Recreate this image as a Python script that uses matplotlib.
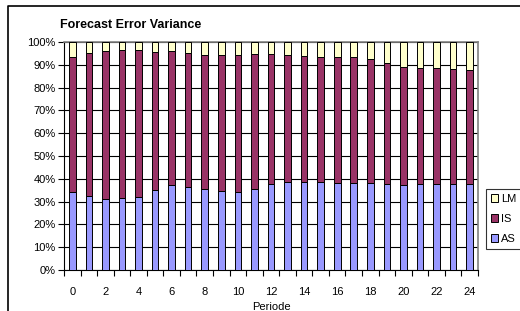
import numpy as np
import matplotlib
matplotlib.use('Agg')
import matplotlib.pyplot as plt
from matplotlib.lines import Line2D

plt.rcParams['font.family'] = ['Liberation Sans', 'DejaVu Sans']

periods = list(range(25))
as_share = [34.2, 32.6, 31.3, 31.7, 32.2, 35.2, 37.1, 36.3, 35.5, 34.5, 34.4, 35.5, 37.6,
            38.6, 38.7, 38.6, 38.3, 38.3, 38.0, 37.6, 37.1, 37.6, 37.6, 37.6, 37.6]
as_is_top = [93.6, 95.2, 96.1, 96.5, 96.5, 95.5, 95.9, 95.0, 94.3, 94.3, 94.3, 94.6, 94.6,
             94.3, 93.7, 93.6, 93.4, 93.3, 92.4, 90.8, 89.0, 88.5, 88.6, 88.2, 87.6]
is_share = [t - a for t, a in zip(as_is_top, as_share)]
lm_share = [100 - t for t in as_is_top]
y_ticks = list(range(0, 101, 10))
y_labels = [str(v) + '%' for v in y_ticks]
x_labels = [str(p) if p % 2 == 0 else '' for p in periods]

fig = plt.figure(figsize=(5.2, 3.11), dpi=100)
ax = fig.add_axes([0.1231, 0.1318, 0.796, 0.733])

x = np.array(periods)
wid = 0.4
ax.bar(x, as_share, width=wid, color='#9999FF', edgecolor='black', linewidth=0.7, label='AS', zorder=3)
ax.bar(x, is_share, width=wid, bottom=as_share, color='#993366', edgecolor='black', linewidth=0.7, label='IS', zorder=3)
ax.bar(x, lm_share, width=wid, bottom=as_is_top, color='#FFFFCC', edgecolor='black', linewidth=0.7, label='LM', zorder=3)

ax.set_xlim(-0.5, 24.5)
ax.set_ylim(0, 100)
ax.set_yticks(y_ticks)
ax.set_yticklabels(y_labels, fontsize=8)
ax.yaxis.grid(True, color='black', linewidth=0.8, zorder=0)
ax.set_axisbelow(True)

ax.set_xticks(x)
ax.set_xticklabels(x_labels, fontsize=8)
ax.tick_params(axis='x', length=0, pad=12)
ax.set_xticks(np.arange(-0.5, 25, 1), minor=True)
ax.tick_params(axis='x', which='minor', length=4, width=0.8, direction='out')
ax.tick_params(axis='y', length=4, width=0.8, pad=2)

for s in ['top', 'right']:
    ax.spines[s].set_color('#808080')
    ax.spines[s].set_linewidth(1.2)
for s in ['left', 'bottom']:
    ax.spines[s].set_color('black')
    ax.spines[s].set_linewidth(0.8)

ax.set_xlabel('Periode', fontsize=8, labelpad=3.5)

fig.text(0.115, 0.92, 'Forecast Error Variance', fontsize=9, fontweight='bold', ha='left', va='center')

handles, labels = ax.get_legend_handles_labels()
leg = fig.legend(handles[::-1], labels[::-1], loc='upper left', bbox_to_anchor=(0.934, 0.392),
                 bbox_transform=fig.transFigure, borderaxespad=0, fontsize=8, frameon=True,
                 fancybox=False, handlelength=0.7, handleheight=0.7, handletextpad=0.2,
                 labelspacing=0.9, borderpad=0.45)
leg.get_frame().set_edgecolor('black')
leg.get_frame().set_linewidth(0.8)

fig.add_artist(Line2D([0.0154, 0.0154, 1.0], [0.0, 0.981, 0.981], transform=fig.transFigure,
                      color='black', linewidth=1.2))

fig.savefig('out.png', dpi=100)
